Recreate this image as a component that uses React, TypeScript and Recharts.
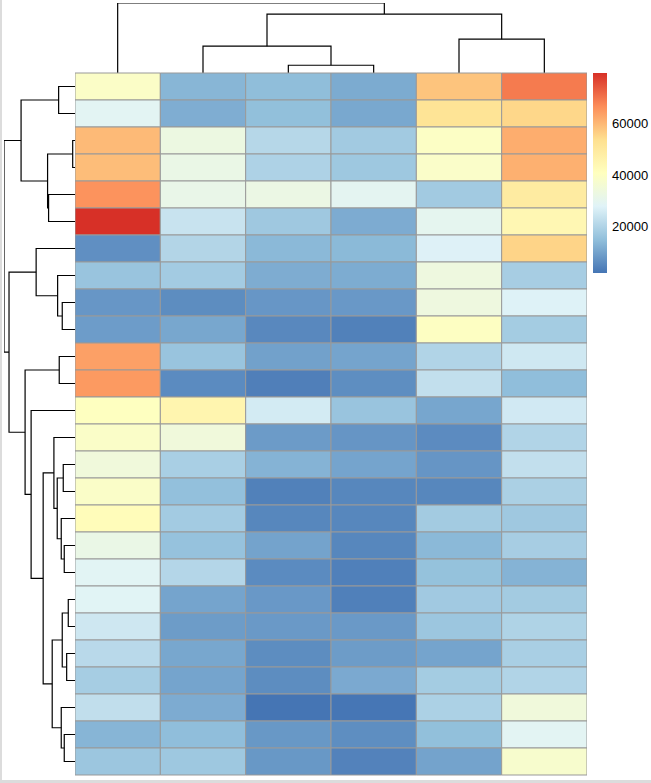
import React from "react";
import { BarChart, Bar, Cell, XAxis, YAxis, ScatterChart, Scatter } from "recharts";

// cell values, one array per heatmap column (rows top to bottom)
const col1 = [39000, 29000, 59500, 59000, 65500, 79300, 6800, 16300, 8000, 9000, 63500, 64500, 40500, 38800, 34500, 38800, 42000, 32000, 28800, 28500, 25000, 21500, 18500, 22800, 13300, 16800];
const col2 = [13500, 12000, 33000, 32000, 31500, 24000, 20500, 18000, 6300, 10900, 16400, 6000, 45000, 34500, 19000, 15300, 18000, 15800, 20700, 10400, 8900, 10800, 10400, 11600, 14900, 17200];
const col3 = [14800, 15200, 21000, 19800, 32500, 17300, 14000, 11800, 8000, 5500, 9800, 4000, 25800, 8800, 13000, 4200, 5300, 10200, 6000, 8300, 8500, 6300, 6300, 2200, 8200, 8200];
const col4 = [11500, 11000, 17800, 17200, 29500, 11600, 14100, 11700, 8300, 4300, 10300, 6500, 16300, 7800, 10300, 5300, 5300, 5300, 4100, 4100, 8500, 8900, 11300, 2400, 6500, 4500];
const col5 = [58000, 52000, 39500, 38500, 17800, 30000, 27500, 33500, 33500, 40000, 20300, 23000, 10700, 6100, 7800, 5300, 17900, 14000, 15700, 17600, 16800, 10300, 18200, 19500, 15200, 10200];
const col6 = [69000, 55000, 61500, 61000, 49000, 44000, 55500, 18600, 27600, 18200, 25200, 14900, 25500, 20300, 23000, 19200, 17300, 18600, 13000, 17900, 20000, 19000, 20200, 34500, 29000, 37500];

// hclust-style merges: negative = leaf (1-based), positive = earlier merge, then height
const rowMerges: [number, number, number][] = [
  [-1, -2, 16.3],
  [-3, -4, 2.3],
  [-5, -6, 26.3],
  [2, 3, 27.3],
  [1, 4, 53.7],
  [-9, -10, 12.7],
  [-8, 6, 17.3],
  [-7, 7, 38.7],
  [-11, -12, 15.7],
  [-15, -16, 11.7],
  [-18, -19, 10.7],
  [-17, 11, 13.7],
  [10, 12, 17.7],
  [-14, 13, 21],
  [-20, -21, 6.7],
  [-22, -23, 8.3],
  [15, 16, 12.7],
  [-25, -26, 10.7],
  [-24, 18, 13.7],
  [17, 19, 22.7],
  [14, 20, 31.7],
  [-13, 21, 43.7],
  [9, 22, 49.7],
  [8, 23, 65.7],
  [5, 24, 70.7],
];
const colMerges: [number, number, number][] = [
  [-3, -4, 7.7],
  [-2, 1, 26.7],
  [-5, -6, 33.7],
  [2, 3, 58.7],
  [-1, 4, 69.7],
];

const legendTicks = [20000, 40000, 60000];
const palette = ["#4575B4", "#91BFDB", "#E0F3F8", "#FFFFBF", "#FEE090", "#FC8D59", "#D73027"];

const columns = [col1, col2, col3, col4, col5, col6];
const allValues = columns.flat();
const vMin = Math.min(...allValues);
const vMax = Math.max(...allValues);

const hexToRgb = (h: string) => [1, 3, 5].map((i) => parseInt(h.slice(i, i + 2), 16));

function colorFor(v: number) {
  const t = (v - vMin) / (vMax - vMin);
  const pos = t * (palette.length - 1);
  const i = Math.min(Math.floor(pos), palette.length - 2);
  const f = pos - i;
  const a = hexToRgb(palette[i]);
  const b = hexToRgb(palette[i + 1]);
  const c = a.map((x, k) => Math.round(x + (b[k] - x) * f));
  return `rgb(${c[0]},${c[1]},${c[2]})`;
}

type Pt = { h: number; p: number };

// turn merges into U-shaped links; leaves sit at index + 0.5
function buildLinks(merges: [number, number, number][]) {
  const pos: number[] = [];
  const hts: number[] = [];
  const get = (id: number): Pt => (id < 0 ? { p: -id - 0.5, h: 0 } : { p: pos[id - 1], h: hts[id - 1] });
  return merges.map(([a, b, H], i) => {
    const A = get(a);
    const B = get(b);
    pos.push((A.p + B.p) / 2);
    hts.push(H);
    const points: Pt[] = [
      { h: A.h, p: A.p },
      { h: H, p: A.p },
      { h: H, p: B.p },
      { h: B.h, p: B.p },
    ];
    return { key: `m${i}`, points };
  });
}

const rowLinks = buildLinks(rowMerges);
const colLinks = buildLinks(colMerges);
const rowMaxH = Math.max(...rowMerges.map((m) => m[2]));
const colMaxH = Math.max(...colMerges.map((m) => m[2]));

const heatRows = col1.map((_, r) => {
  const row: Record<string, number | string> = { row: `r${r + 1}` };
  columns.forEach((_, c) => (row[`c${c + 1}`] = 1));
  return row;
});

const legendData = [{ name: "scale", range: [vMin, vMax] }];

const noDot = () => <g />;
const lineStyle = { stroke: "#000", strokeWidth: 1.2 };

export default function App() {
  return (
    <div
      style={{
        position: "absolute",
        left: 0,
        top: 0,
        width: 651,
        height: 783,
        background: "#fff",
        fontFamily: "'Liberation Sans', Arial, sans-serif",
      }}
    >
      {/* thin frame on the left and bottom edges */}
      <div style={{ position: "absolute", left: 0, top: 0, width: 2, height: 783, background: "#dcdcdc" }} />
      <div style={{ position: "absolute", left: 0, top: 780, width: 651, height: 3, background: "#dcdcdc" }} />

      {/* column dendrogram */}
      <div style={{ position: "absolute", left: 73, top: 1 }}>
        <ScatterChart width={516} height={74} margin={{ top: 2, right: 2, bottom: 2, left: 2 }}>
          <XAxis type="number" dataKey="p" domain={[0, columns.length]} allowDataOverflow hide />
          <YAxis type="number" dataKey="h" domain={[0, colMaxH]} allowDataOverflow hide />
          {colLinks.map((l) => (
            <Scatter key={l.key} data={l.points} line={lineStyle} shape={noDot} isAnimationActive={false} />
          ))}
        </ScatterChart>
      </div>

      {/* row dendrogram */}
      <div style={{ position: "absolute", left: 2, top: 71 }}>
        <ScatterChart width={75} height={706} margin={{ top: 2, right: 2, bottom: 2, left: 2 }}>
          <XAxis type="number" dataKey="h" domain={[0, rowMaxH]} reversed allowDataOverflow hide />
          <YAxis type="number" dataKey="p" domain={[0, col1.length]} reversed allowDataOverflow hide />
          {rowLinks.map((l) => (
            <Scatter key={l.key} data={l.points} line={lineStyle} shape={noDot} isAnimationActive={false} />
          ))}
        </ScatterChart>
      </div>

      {/* heatmap cells */}
      <div style={{ position: "absolute", left: 74, top: 72 }}>
        <BarChart
          width={514}
          height={704}
          data={heatRows}
          layout="vertical"
          barCategoryGap={0}
          barGap={0}
          margin={{ top: 1, right: 1, bottom: 1, left: 1 }}
        >
          <XAxis type="number" domain={[0, columns.length]} allowDataOverflow hide />
          <YAxis type="category" dataKey="row" hide />
          {columns.map((col, c) => (
            <Bar key={c} dataKey={`c${c + 1}`} stackId="s" stroke="#999999" strokeWidth={1} isAnimationActive={false}>
              {col.map((v, r) => (
                <Cell key={r} fill={colorFor(v)} />
              ))}
            </Bar>
          ))}
        </BarChart>
      </div>

      {/* colour legend */}
      <div style={{ position: "absolute", left: 593, top: 73 }}>
        <BarChart width={64} height={200} data={legendData} barCategoryGap={0} margin={{ top: 0, right: 0, bottom: 0, left: 0 }}>
          <defs>
            <linearGradient id="legendGrad" x1="0" y1="1" x2="0" y2="0">
              {palette.map((c, i) => (
                <stop key={c} offset={`${(i / (palette.length - 1)) * 100}%`} stopColor={c} />
              ))}
            </linearGradient>
          </defs>
          <XAxis dataKey="name" type="category" hide />
          <YAxis
            orientation="right"
            type="number"
            domain={[vMin, vMax]}
            allowDataOverflow
            ticks={legendTicks}
            axisLine={false}
            tickLine={false}
            tickSize={0}
            tickMargin={5}
            width={50}
            tick={{ fill: "#000", fontSize: 13, fontFamily: "'Liberation Sans', Arial, sans-serif" }}
          />
          <Bar dataKey="range" fill="url(#legendGrad)" isAnimationActive={false} />
        </BarChart>
      </div>
    </div>
  );
}
